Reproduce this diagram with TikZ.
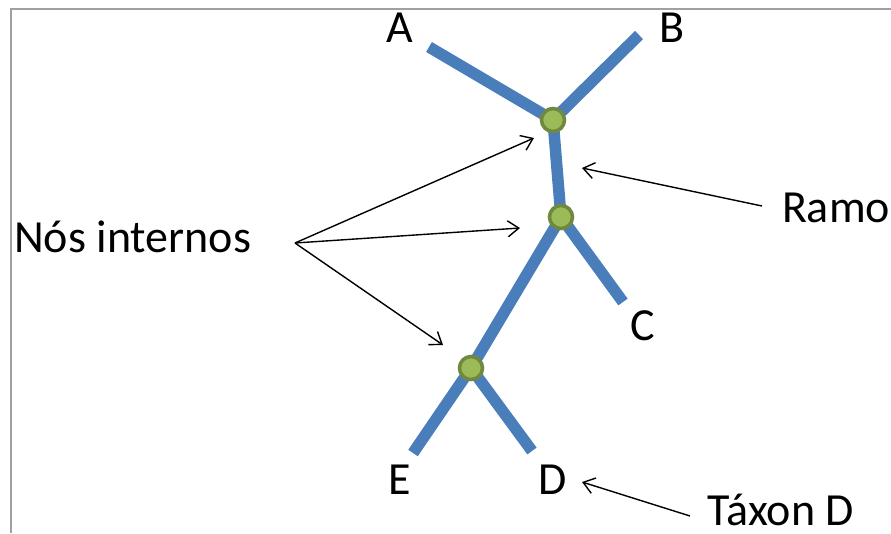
\documentclass[tikz,border=0pt]{standalone}
\usepackage{fontspec}
\setmainfont{Carlito}
\usetikzlibrary{arrows.meta}
\definecolor{branchblue}{HTML}{4A7EBB}
\definecolor{nodefill}{HTML}{9BBB59}
\definecolor{nodeedge}{HTML}{71893F}
\definecolor{framegray}{HTML}{A0A0A0}
\tikzset{
  branch/.style={line width=11.5pt, draw=branchblue, line cap=butt},
  innode/.style={circle, fill=nodefill, draw=nodeedge, line width=3.6pt, minimum size=23pt, inner sep=0pt},
  lbl/.style={anchor=base, inner sep=0pt, font=\fontsize{46}{50}\selectfont},
  pointer/.style={line width=1.4pt, draw=black, -{Straight Barb[length=11pt, width=16pt, line width=1.4pt]}},
}
\begin{document}
\begin{tikzpicture}[x=1pt, y=-1pt]
\useasboundingbox (0,0) rectangle (891,533);
% frame
\draw[framegray, line width=2.2pt] (11,533) -- (11,9) -- (891,9);
% coordinates
\coordinate (eA) at (429,47);
\coordinate (eB) at (639,35);
\coordinate (eC) at (623,302);
\coordinate (eE) at (413,453);
\coordinate (eD) at (532,451);
\coordinate (n1) at (553,120);
\coordinate (n2) at (561,217);
\coordinate (n3) at (471,368);
% branches
\draw[branch] (eA) -- (n1);
\draw[branch] (eB) -- (n1);
\draw[branch] (n1) -- (n2);
\draw[branch] (n2) -- (eC);
\draw[branch] (n2) -- (n3);
\draw[branch] (n3) -- (eE);
\draw[branch] (n3) -- (eD);
% internal nodes
\node[innode] (c1) at (n1) {};
\node[innode] (c2) at (n2) {};
\node[innode] (c3) at (n3) {};
% labels
\node[lbl] (lA) at (400,42) {A};
\node[lbl] (lB) at (672,42) {B};
\node[lbl] (lC) at (643,340) {C};
\node[lbl] (lE) at (400,494) {E};
\node[lbl] (lD) at (553,494) {D};
\node[lbl] (lRamo) at (836,222) {Ramo};
\node[lbl, anchor=base west] (lNos) at (14,252) {Nós internos};
\node[lbl] (lTaxon) at (781,525) {Táxon D};
% pointer anchors
\coordinate (sNos) at (295,243);
\coordinate (t1) at (534,138);
\coordinate (t2) at (520,228);
\coordinate (t3) at (443,345);
\coordinate (sRamo) at (762,206);
\coordinate (tRamo) at (582,168);
\coordinate (sTax) at (690,516);
\coordinate (tTax) at (582,482);
\draw[pointer] (sNos) -- (t1);
\draw[pointer] (sNos) -- (t2);
\draw[pointer] (sNos) -- (t3);
\draw[pointer] (sRamo) -- (tRamo);
\draw[pointer] (sTax) -- (tTax);
\end{tikzpicture}
\end{document}
